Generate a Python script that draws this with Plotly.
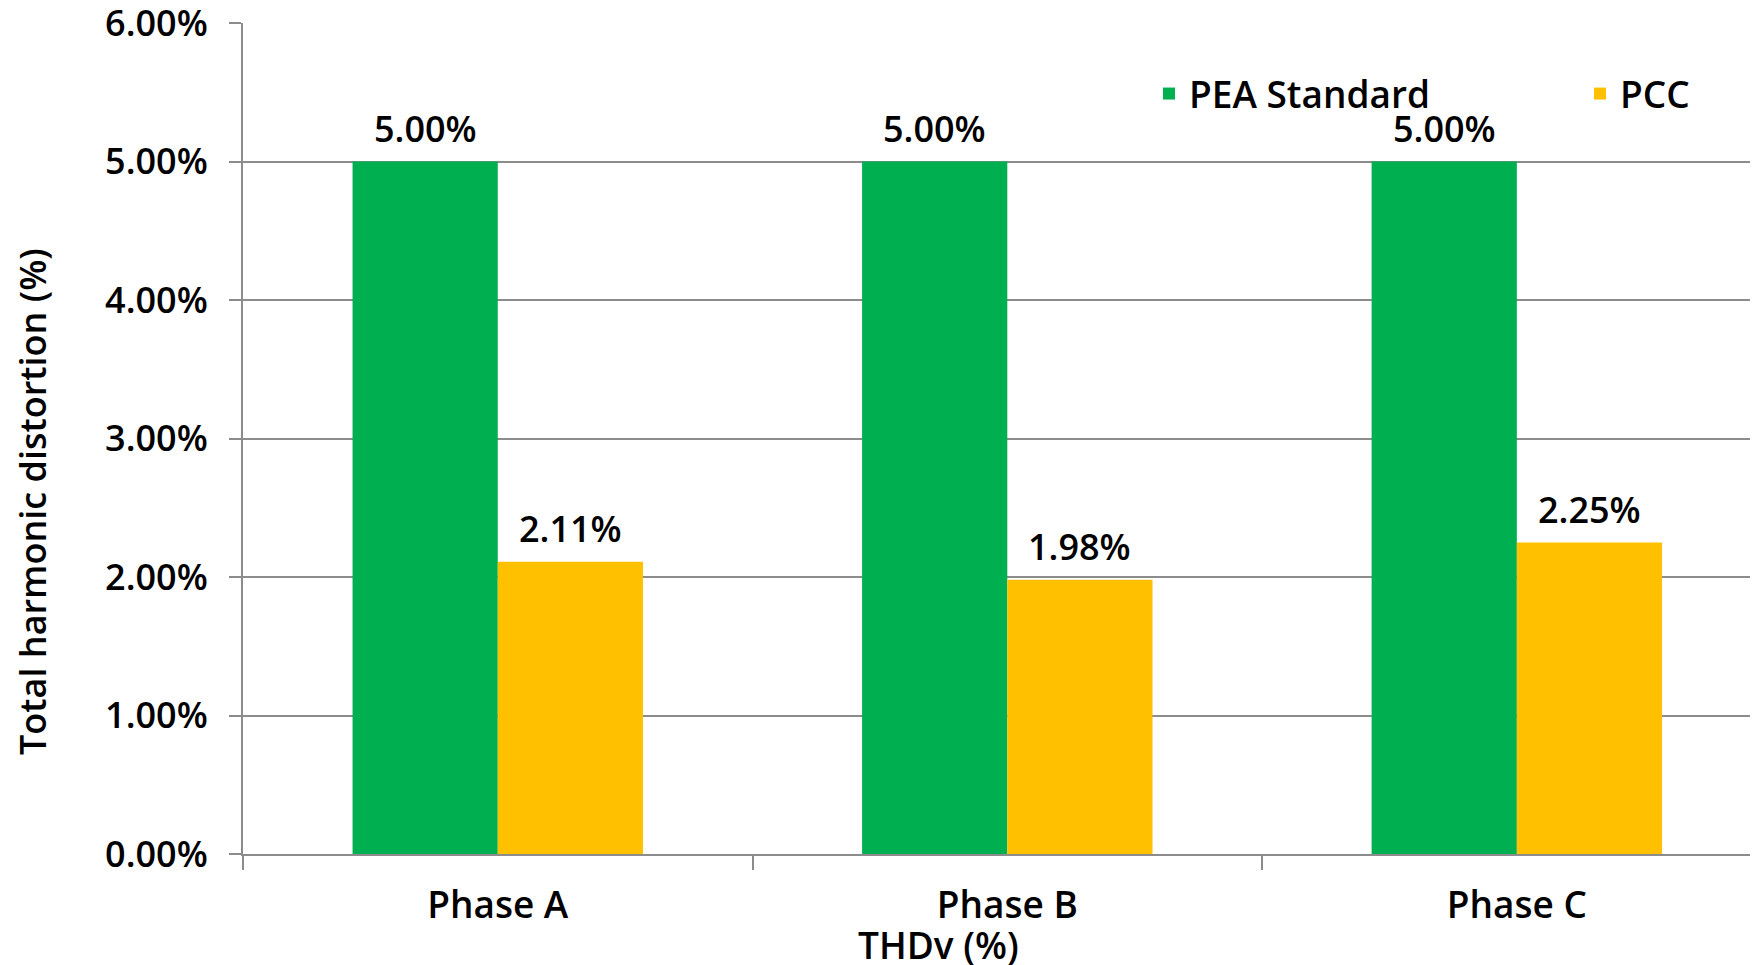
import plotly.graph_objects as go

categories = ["Phase A", "Phase B", "Phase C"]
pea_standard = [5.00, 5.00, 5.00]
pcc = [2.11, 1.98, 2.25]
y_ticks = [0, 1, 2, 3, 4, 5, 6]
y_tick_text = [f"{v:.2f}%" for v in y_ticks]

W, H = 1758, 965
L, R, T, B = 235, 0, 15, 119
PW, PH = W - L - R, H - T - B
FONT = "Open Sans"
GREY = "#8c8c8c"
BARGAP = 0.43

def px_x(px):
    return (px - L) / PW

def px_y(py):
    return (H - B - py) / PH

num_font = dict(family=FONT, size=36, color="black", weight=600)
word_font = dict(family=FONT, size=37, color="black", weight=600)

fig = go.Figure()
fig.add_trace(go.Bar(
    name="PEA Standard", x=categories, y=pea_standard,
    marker=dict(color="#00B050", line=dict(width=0)),
    legend="legend",
))
fig.add_trace(go.Bar(
    name="PCC", x=categories, y=pcc,
    marker=dict(color="#FFC000", line=dict(width=0)),
    legend="legend2",
))

annotations = []
off = (1 - BARGAP) / 4
for i, (a, b) in enumerate(zip(pea_standard, pcc)):
    annotations.append(dict(x=i - off, y=a, xref="x", yref="y", text=f"{a:.2f}%",
                            showarrow=False, yanchor="middle", yshift=33, font=num_font))
    annotations.append(dict(x=i + off, y=b, xref="x", yref="y", text=f"{b:.2f}%",
                            showarrow=False, yanchor="middle", yshift=33, font=num_font))

annotations += [
    dict(text="Total harmonic distortion (%)", xref="paper", yref="paper",
         x=px_x(24), y=px_y(494), xanchor="center", yanchor="middle",
         textangle=-90, showarrow=False, font=dict(family=FONT, size=36, color="black", weight=600)),
    dict(text="THDv (%)", xref="paper", yref="paper",
         x=px_x(930), y=px_y(936), xanchor="center", yanchor="middle",
         showarrow=False, font=word_font),
]

fig.update_layout(
    width=W, height=H,
    margin=dict(l=L, r=R, t=T, b=B, pad=0, autoexpand=False),
    paper_bgcolor="white", plot_bgcolor="white",
    barmode="group", bargap=BARGAP, bargroupgap=0,
    font=dict(family=FONT, size=36, color="black", weight=600),
    showlegend=True,
    legend=dict(
        x=px_x(1141), xanchor="left", y=px_y(86), yanchor="middle",
        font=word_font, bgcolor="rgba(0,0,0,0)", itemclick=False,
    ),
    legend2=dict(
        x=px_x(1572), xanchor="left", y=px_y(86), yanchor="middle",
        font=word_font, bgcolor="rgba(0,0,0,0)", itemclick=False,
    ),
    xaxis=dict(
        range=[-0.5, 2.489], tickson="boundaries", ticks="outside",
        ticklen=14, tickcolor=GREY, tickwidth=1.5,
        showline=True, linecolor=GREY, linewidth=2,
        showgrid=False, ticklabelstandoff=18, automargin=False,
        tickfont=word_font,
    ),
    yaxis=dict(
        range=[0, 6], tickvals=y_ticks, ticktext=y_tick_text,
        ticks="outside", ticklen=12, tickcolor=GREY, tickwidth=1.5,
        showline=True, linecolor=GREY, linewidth=2,
        showgrid=True, gridcolor=GREY, gridwidth=1.5,
        zeroline=False, ticklabelstandoff=14, ticklabeloverflow="allow",
        automargin=False,
        tickfont=num_font,
    ),
    annotations=annotations,
)

fig.write_html("out.html")
